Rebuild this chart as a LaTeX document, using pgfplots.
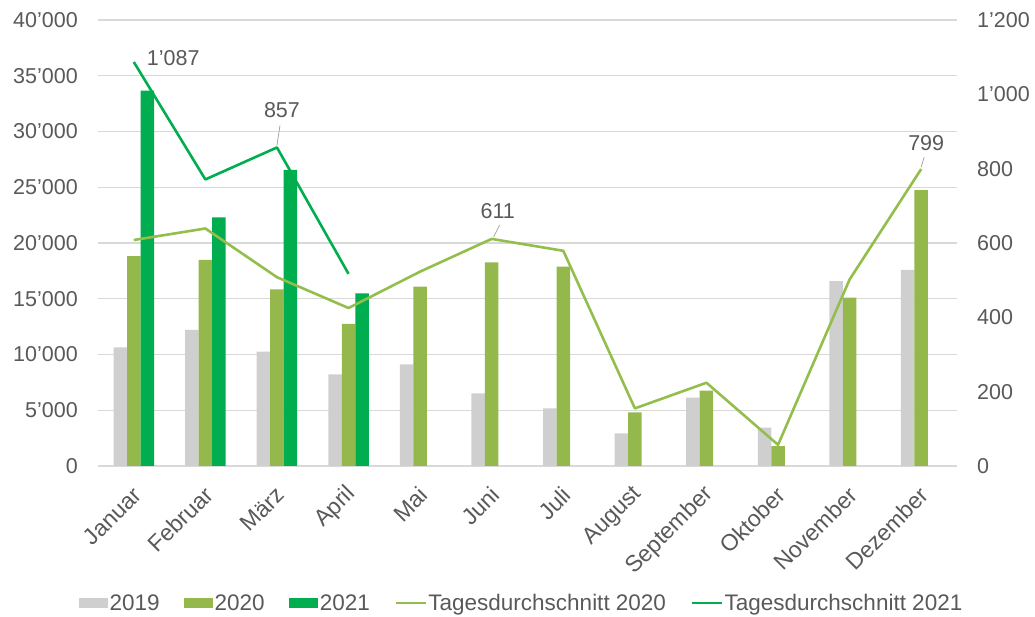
\documentclass[border=0pt]{standalone}
\usepackage{pgfplots}
\pgfplotsset{compat=1.18}
\usepackage{fontspec}
\setmainfont{Liberation Sans}
\definecolor{c19}{HTML}{D0CFD0}
\definecolor{c20}{HTML}{94B84B}
\definecolor{c21}{HTML}{00AD4F}
\definecolor{l20}{HTML}{94BE4C}
\definecolor{l21}{HTML}{00AD4F}
\definecolor{txt}{HTML}{595959}
\definecolor{gridc}{HTML}{D9D9D9}
\definecolor{ldr}{HTML}{A6A6A6}
\newcommand{\fsz}{\fontsize{21.5pt}{25pt}\selectfont}
\newcommand{\fszx}{\fontsize{23pt}{27pt}\selectfont}
\newcommand{\fszl}{\fontsize{22.5pt}{26pt}\selectfont}
\begin{document}
\begin{tikzpicture}[x=1pt,y=1pt]
\useasboundingbox (-98,-151) rectangle (937,466);
\begin{axis}[
  at={(0,0)}, anchor=south west, scale only axis,
  width=859pt, height=446pt,
  xmin=-0.5, xmax=11.5, ymin=0, ymax=40000,
  axis line style={draw=none},
  major tick length=0pt,
  ytick={0,5000,...,40000},
  ymajorgrids, grid style={draw=gridc, line width=1.3pt},
  scaled y ticks=false,
  yticklabel style={/pgf/number format/fixed, /pgf/number format/1000 sep={’}, /pgf/number format/assume math mode=true, font=\fsz, text=txt, inner sep=0pt, anchor=east, xshift=-20pt},
  xtick={0,...,11},
  xticklabels={Januar,Februar,März,April,Mai,Juni,Juli,August,September,Oktober,November,Dezember},
  xticklabel style={font=\fszx, text=txt, inner sep=0pt, xshift=3.5pt, yshift=-25pt, rotate=45, anchor=east},
  ybar, bar width=13.5pt,
  legend style={draw=none, fill=none, at={(0.493,-0.307)}, anchor=center, legend columns=-1, font=\fszl, text=txt, /tikz/every even column/.append style={column sep=23pt}, nodes={inner sep=1.5pt}},
  legend cell align=left,
]
\addplot[fill=c19, draw=none, bar shift=-13.5pt, legend image code/.code={\fill[c19] (0pt,-5pt) rectangle (29pt,5pt);}] coordinates {
(0,10650) (1,12200) (2,10250) (3,8220) (4,9120) (5,6520) (6,5170) (7,2930) (8,6130) (9,3440) (10,16590) (11,17580)};
\addlegendentry{2019}
\addplot[fill=c20, draw=none, bar shift=0pt, legend image code/.code={\fill[c20] (0pt,-5pt) rectangle (29pt,5pt);}] coordinates {
(0,18830) (1,18480) (2,15850) (3,12740) (4,16080) (5,18270) (6,17880) (7,4810) (8,6760) (9,1790) (10,15100) (11,24750)};
\addlegendentry{2020}
\addplot[fill=c21, draw=none, bar shift=13.5pt, legend image code/.code={\fill[c21] (0pt,-5pt) rectangle (29pt,5pt);}] coordinates {
(0,33660) (1,22300) (2,26550) (3,15490)};
\addlegendentry{2021}
\addlegendimage{legend image code/.code={\draw[l20, line width=2.6pt] (0pt,0pt) -- (30pt,0pt);}}
\addlegendentry{Tagesdurchschnitt 2020}
\addlegendimage{legend image code/.code={\draw[l21, line width=2.6pt] (0pt,0pt) -- (30pt,0pt);}}
\addlegendentry{Tagesdurchschnitt 2021}
\end{axis}
\begin{axis}[
  at={(0,0)}, anchor=south west, scale only axis,
  width=859pt, height=446pt,
  xmin=-0.5, xmax=11.5, ymin=0, ymax=1200,
  axis y line*=right, hide x axis,
  axis line style={draw=none},
  major tick length=0pt,
  ytick={0,200,...,1200},
  yticklabel style={/pgf/number format/fixed, /pgf/number format/1000 sep={’}, /pgf/number format/assume math mode=true, font=\fsz, text=txt, inner sep=0pt, anchor=west, xshift=20pt},
  clip=false,
]
\addplot[l20, line width=2.6pt, line join=round, mark=none] coordinates {
(0,608) (1,639) (2,508) (3,425) (4,523) (5,611) (6,579) (7,155) (8,224) (9,57) (10,502) (11,799)};
\addplot[l21, line width=2.6pt, line join=round, mark=none] coordinates {
(0,1087) (1,771) (2,857) (3,517)};
\node[font=\fsz, text=txt, anchor=west, inner sep=0pt] at ([xshift=13pt, yshift=4pt]axis cs:0,1087) {1’087};
\draw[ldr, line width=0.8pt] ([yshift=2pt]axis cs:2,857) -- ([xshift=3pt, yshift=22pt]axis cs:2,857);
\node[font=\fsz, text=txt, inner sep=0pt] at ([xshift=5pt, yshift=37pt]axis cs:2,857) {857};
\draw[ldr, line width=0.8pt] ([xshift=2pt, yshift=2pt]axis cs:5,611) -- ([xshift=8pt, yshift=14pt]axis cs:5,611);
\node[font=\fsz, text=txt, inner sep=0pt] at ([xshift=6pt, yshift=28pt]axis cs:5,611) {611};
\draw[ldr, line width=0.8pt] ([yshift=2pt]axis cs:11,799) -- ([xshift=3pt, yshift=12pt]axis cs:11,799);
\node[font=\fsz, text=txt, inner sep=0pt] at ([xshift=5pt, yshift=26pt]axis cs:11,799) {799};
\end{axis}
\end{tikzpicture}
\end{document}
